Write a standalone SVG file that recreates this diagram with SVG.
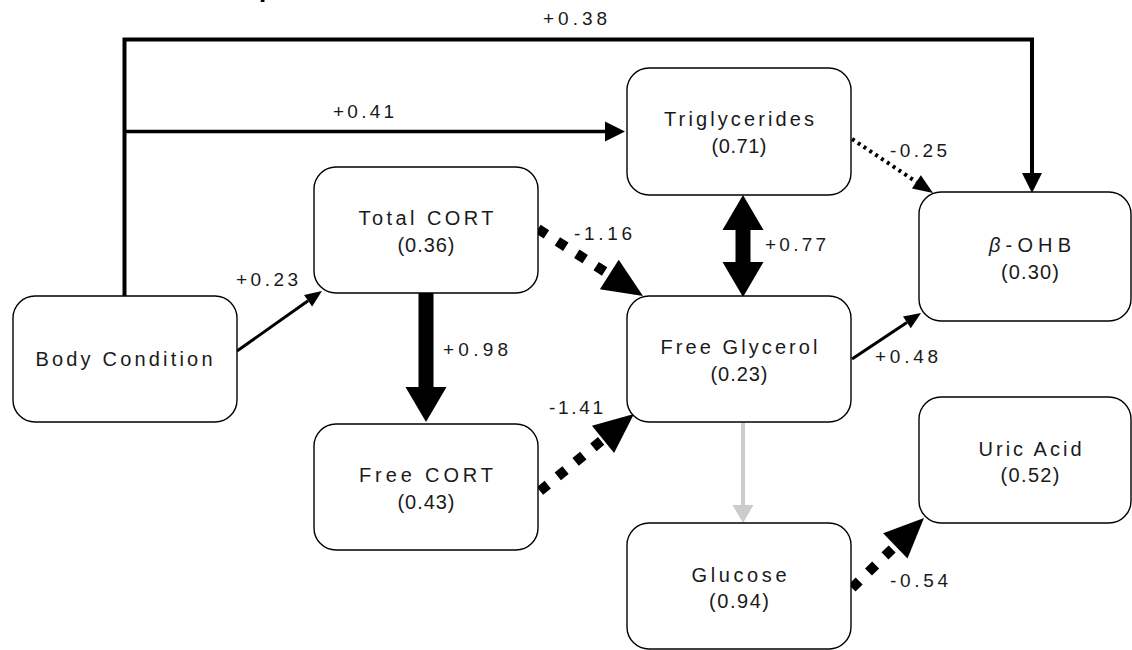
<svg xmlns="http://www.w3.org/2000/svg" width="1132" height="650" viewBox="0 0 1132 650">
<style>
  .box { fill: #fff; stroke: #000; stroke-width: 1.4; }
  .nt { font-family: "Liberation Sans", Arial, sans-serif; font-size: 20px; fill: #1a1a1a; text-anchor: middle; }
  .el { font-family: "Liberation Sans", Arial, sans-serif; font-size: 19px; fill: #1a1a1a; }
  .ln { fill: none; stroke: #000; }
  .grey { fill: none; stroke: #cccccc; }
</style>
<defs>
  <marker id="aS" markerUnits="userSpaceOnUse" orient="auto" markerWidth="20" markerHeight="16" refX="0" refY="7" viewBox="0 0 20 14" overflow="visible">
    <path d="M0,0 L17,7 L0,14 Z" fill="#000"/>
  </marker>
  <marker id="aM" markerUnits="userSpaceOnUse" orient="auto" markerWidth="22" markerHeight="22" refX="0" refY="10" viewBox="0 0 22 20" overflow="visible">
    <path d="M0,0 L20,10 L0,20 Z" fill="#000"/>
  </marker>
  <marker id="aD" markerUnits="userSpaceOnUse" orient="auto" markerWidth="22" markerHeight="18" refX="0" refY="8" viewBox="0 0 22 16" overflow="visible">
    <path d="M0,0 L20,8 L0,16 Z" fill="#000"/>
  </marker>
  <marker id="aG" markerUnits="userSpaceOnUse" orient="auto" markerWidth="20" markerHeight="22" refX="0" refY="10.5" viewBox="0 0 20 21" overflow="visible">
    <path d="M0,0 L18,10.5 L0,21 Z" fill="#cccccc"/>
  </marker>
  <marker id="aB" markerUnits="userSpaceOnUse" orient="auto" markerWidth="42" markerHeight="36" refX="0" refY="17.5" viewBox="0 0 42 35" overflow="visible">
    <path d="M0,0 L40,17.5 L0,35 Z" fill="#000"/>
  </marker>
  <marker id="aH" markerUnits="userSpaceOnUse" orient="auto-start-reverse" markerWidth="36" markerHeight="42" refX="0" refY="20.5" viewBox="0 0 36 41" overflow="visible">
    <path d="M0,0 L35,20.5 L0,41 Z" fill="#000"/>
  </marker>
</defs>

<text x="259" y="-3" font-family="Liberation Sans, Arial, sans-serif" font-size="26" font-weight="bold" fill="#000">p</text>

<g id="connectors">
  <path class="ln" d="M124.5,296 V39.5 H1032 V173" stroke-width="4" marker-end="url(#aM)"/>
  <path class="ln" d="M124.5,131.5 H605" stroke-width="3.5" marker-end="url(#aM)"/>
  <path class="ln" d="M237,351 L308.1,300.8" stroke-width="3" marker-end="url(#aS)"/>
  <path class="ln" d="M426,293 V387" stroke-width="15" marker-end="url(#aH)"/>
  <path class="ln" d="M538,229 L609.3,274.5" stroke-width="10" stroke-dasharray="10 13" marker-end="url(#aB)"/>
  <path class="ln" d="M540,491 L603,439.4" stroke-width="10" stroke-dasharray="10 13" marker-end="url(#aB)"/>
  <path class="ln" d="M743,230 V262" stroke-width="15" marker-start="url(#aH)" marker-end="url(#aH)"/>
  <path class="ln" d="M852,139 L916.4,181.9" stroke-width="4" stroke-dasharray="3 4" marker-end="url(#aD)"/>
  <path class="ln" d="M852,359 L906.9,322.4" stroke-width="3" marker-end="url(#aS)"/>
  <path class="grey" d="M743,422 V505" stroke-width="4" marker-end="url(#aG)"/>
  <path class="ln" d="M852,588 L895.3,545.9" stroke-width="10" stroke-dasharray="10 13" marker-end="url(#aB)"/>

  <text class="el" x="543" y="25" textLength="64">+0.38</text>
  <text class="el" x="333" y="118" textLength="61">+0.41</text>
  <text class="el" x="890" y="157" textLength="57">-0.25</text>
  <text class="el" x="574" y="240" textLength="58">-1.16</text>
  <text class="el" x="765" y="251" textLength="61">+0.77</text>
  <text class="el" x="236" y="286" textLength="62">+0.23</text>
  <text class="el" x="443" y="356" textLength="65">+0.98</text>
  <text class="el" x="549" y="414" textLength="54">-1.41</text>
  <text class="el" x="875" y="363" textLength="63">+0.48</text>
  <text class="el" x="890" y="587" textLength="58">-0.54</text>
</g>

<g id="node-body-condition">
  <rect class="box" x="13" y="296" width="224" height="126" rx="22"/>
  <text class="nt" x="124" y="366" textLength="177">Body Condition</text>
</g>
<g id="node-total-cort">
  <rect class="box" x="314" y="167" width="224" height="126" rx="22"/>
  <text class="nt" x="426" y="225" textLength="135">Total CORT</text>
  <text class="nt" x="426" y="252" textLength="57">(0.36)</text>
</g>
<g id="node-free-cort">
  <rect class="box" x="314" y="424" width="224" height="126" rx="22"/>
  <text class="nt" x="426" y="482" textLength="134">Free CORT</text>
  <text class="nt" x="426" y="509" textLength="57">(0.43)</text>
</g>
<g id="node-triglycerides">
  <rect class="box" x="627" y="68" width="224" height="127" rx="22"/>
  <text class="nt" x="739" y="126" textLength="150">Triglycerides</text>
  <text class="nt" x="739" y="153" textLength="55">(0.71)</text>
</g>
<g id="node-free-glycerol">
  <rect class="box" x="627" y="296" width="224" height="126" rx="22"/>
  <text class="nt" x="739" y="354" textLength="157">Free Glycerol</text>
  <text class="nt" x="739" y="381" textLength="57">(0.23)</text>
</g>
<g id="node-glucose">
  <rect class="box" x="627" y="523" width="224" height="126" rx="22"/>
  <text class="nt" x="739" y="582" textLength="95">Glucose</text>
  <text class="nt" x="739" y="608" textLength="60">(0.94)</text>
</g>
<g id="node-beta-ohb">
  <rect class="box" x="919" y="192" width="212" height="129" rx="22"/>
  <text class="nt" x="1030" y="252" textLength="82"><tspan font-style="italic">β</tspan>-OHB</text>
  <text class="nt" x="1030" y="279" textLength="58">(0.30)</text>
</g>
<g id="node-uric-acid">
  <rect class="box" x="919" y="397" width="212" height="126" rx="22"/>
  <text class="nt" x="1030" y="456" textLength="103">Uric Acid</text>
  <text class="nt" x="1030" y="482" textLength="59">(0.52)</text>
</g>
</svg>
